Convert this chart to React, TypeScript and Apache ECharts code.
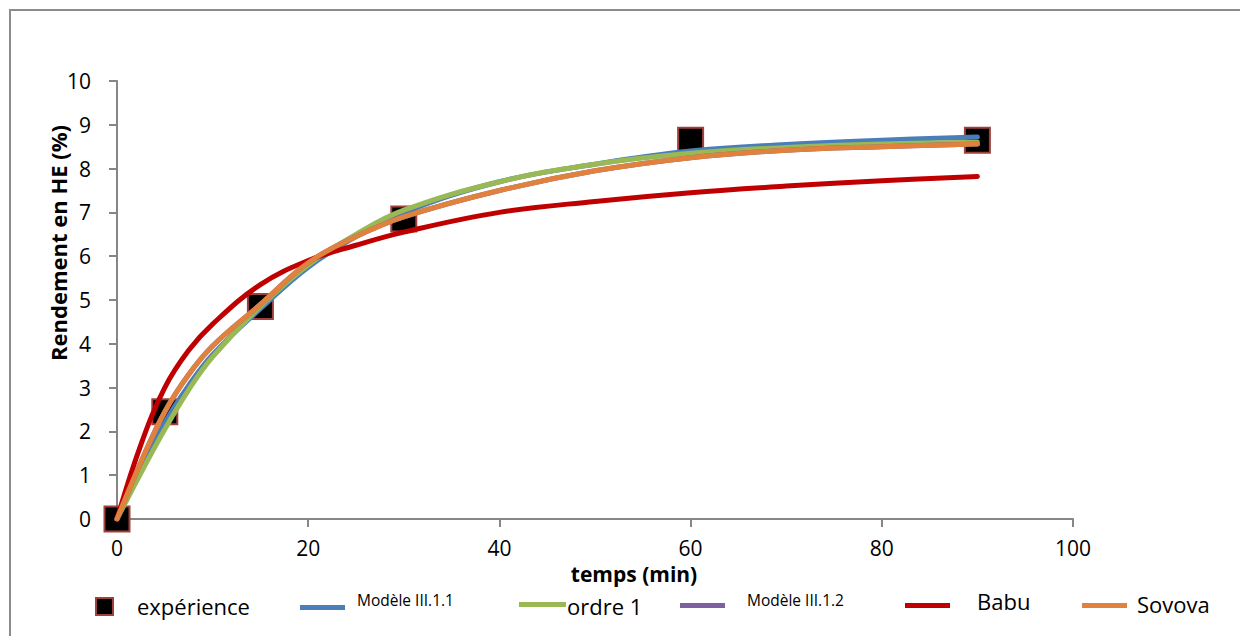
import React, { useEffect, useRef } from "react";
import * as echarts from "echarts";

// Experimental points
const expTime = [0, 5, 15, 30, 60, 90];
const expYield = [0, 2.45, 4.85, 6.85, 8.65, 8.65];

// Model curves
const curveTime = [0, 2.5, 5, 7.5, 10, 15, 20, 25, 30, 40, 50, 60, 70, 80, 90];
const modele111 = [0, 1.15, 2.2, 3.05, 3.75, 4.8, 5.75, 6.45, 7.0, 7.7, 8.1, 8.4, 8.55, 8.65, 8.72];
const ordre1 = [0, 1.05, 2.05, 2.95, 3.7, 4.85, 5.8, 6.5, 7.05, 7.7, 8.1, 8.35, 8.48, 8.56, 8.6];
const modele112 = [0, 1.3, 2.45, 3.3, 3.95, 4.9, 5.85, 6.45, 6.9, 7.5, 7.95, 8.25, 8.42, 8.5, 8.56];
const babu = [0, 1.7, 3.0, 3.85, 4.45, 5.35, 5.9, 6.25, 6.55, 7.0, 7.25, 7.45, 7.6, 7.72, 7.82];
const sovova = [0, 1.3, 2.45, 3.3, 3.95, 4.9, 5.85, 6.45, 6.9, 7.5, 7.95, 8.25, 8.42, 8.5, 8.56];

const xTicks = { min: 0, max: 100, interval: 20 };
const yTicks = { min: 0, max: 10, interval: 1 };

const names = ["expérience", "Modèle III.1.1", "ordre 1", "Modèle III.1.2", "Babu", "Sovova"];
const colors = ["#000000", "#4A7EBB", "#98B954", "#7D60A0", "#C00000", "#E0823D"];

// legend layout (pixel positions of icon / text)
const legendLayout = [
  { iconX: 96, iconY: 598, iconW: 17, iconH: 17, textX: 137, textY: 606, size: 22 },
  { iconX: 300, iconY: 605, iconW: 45, iconH: 5, textX: 357, textY: 600, size: 15.5 },
  { iconX: 519, iconY: 602, iconW: 47, iconH: 5, textX: 567, textY: 606, size: 22 },
  { iconX: 680, iconY: 603, iconW: 45, iconH: 5, textX: 747, textY: 600, size: 15.5 },
  { iconX: 905, iconY: 603, iconW: 45, iconH: 5, textX: 977, textY: 601, size: 22 },
  { iconX: 1082, iconY: 603, iconW: 45, iconH: 5, textX: 1137, textY: 604, size: 22 },
];

const FONT = "'Open Sans', 'Noto Sans', sans-serif";

function pairs(t: number[], v: number[]) {
  return t.map((x, i) => [x, v[i]]);
}

export default function App() {
  const ref = useRef<HTMLDivElement>(null);
  useEffect(() => {
    if (!ref.current) return;
    document.documentElement.style.overflow = "hidden";
    document.body.style.overflow = "hidden";
    const chart = echarts.init(ref.current, null, { renderer: "svg" });
    const lineSeries = (name: string, color: string, vals: number[]) => ({
      name,
      type: "line",
      data: pairs(curveTime, vals),
      smooth: 0.4,
      showSymbol: false,
      symbol: "none",
      lineStyle: { color, width: 5, cap: "round" },
      itemStyle: { color },
      z: 3,
    });

    const legendGraphics: any[] = [];
    names.forEach((n, i) => {
      const L = legendLayout[i];
      legendGraphics.push({
        type: "rect",
        shape: { x: L.iconX, y: L.iconY, width: L.iconW, height: L.iconH },
        style:
          i === 0
            ? { fill: "#000", stroke: "#A0413D", lineWidth: 2 }
            : { fill: colors[i] },
        silent: true,
      });
      legendGraphics.push({
        type: "text",
        x: L.textX,
        y: L.textY,
        style: {
          text: n,
          fontSize: L.size,
          fontFamily: FONT,
          fill: "#000",
          verticalAlign: "middle",
          align: "left",
        },
        silent: true,
      });
    });

    const option: any = {
      animation: false,
      backgroundColor: "#ffffff",
      grid: { left: 117, right: 167, top: 81, bottom: 117, containLabel: false },
      xAxis: {
        type: "value",
        ...xTicks,
        axisLine: { show: true, lineStyle: { color: "#868686", width: 2 } },
        axisTick: { show: true, length: 8, lineStyle: { color: "#868686", width: 2 } },
        axisLabel: { color: "#000", fontSize: 21, fontFamily: FONT, margin: 18 },
        splitLine: { show: false },
      },
      yAxis: {
        type: "value",
        ...yTicks,
        axisLine: { show: true, lineStyle: { color: "#868686", width: 2 } },
        axisTick: { show: true, length: 8, lineStyle: { color: "#868686", width: 2 } },
        axisLabel: { color: "#000", fontSize: 21, fontFamily: FONT, margin: 26 },
        splitLine: { show: false },
      },
      graphic: [
        {
          type: "line",
          shape: { x1: 10, y1: 9, x2: 10, y2: 640 },
          style: { stroke: "#8c8c8c", lineWidth: 2 },
          silent: true,
        },
        {
          type: "line",
          shape: { x1: 9, y1: 10, x2: 1240, y2: 10 },
          style: { stroke: "#8c8c8c", lineWidth: 2 },
          silent: true,
        },
        {
          type: "text",
          x: 58,
          y: 243,
          rotation: Math.PI / 2,
          style: {
            text: "Rendement en HE (%)",
            fontSize: 22,
            fontWeight: "bold",
            fontFamily: FONT,
            fill: "#000",
            align: "center",
            verticalAlign: "middle",
          },
          silent: true,
        },
        {
          type: "text",
          x: 634,
          y: 574,
          style: {
            text: "temps (min)",
            fontSize: 21,
            fontWeight: "bold",
            fontFamily: FONT,
            fill: "#000",
            align: "center",
            verticalAlign: "middle",
          },
          silent: true,
        },
        ...legendGraphics,
      ],
      series: [
        {
          name: names[0],
          type: "scatter",
          data: pairs(expTime, expYield),
          symbol: "rect",
          symbolSize: 25,
          itemStyle: { color: "#000000", borderColor: "#A0413D", borderWidth: 2, opacity: 1 },
          z: 2,
        },
        lineSeries(names[1], colors[1], modele111),
        lineSeries(names[2], colors[2], ordre1),
        lineSeries(names[3], colors[3], modele112),
        lineSeries(names[4], colors[4], babu),
        lineSeries(names[5], colors[5], sovova),
      ],
    };
    chart.setOption(option);
    return () => chart.dispose();
  }, []);
  return (
    <div
      ref={ref}
      style={{ position: "absolute", left: 0, top: 0, width: 1240, height: 636 }}
    />
  );
}
